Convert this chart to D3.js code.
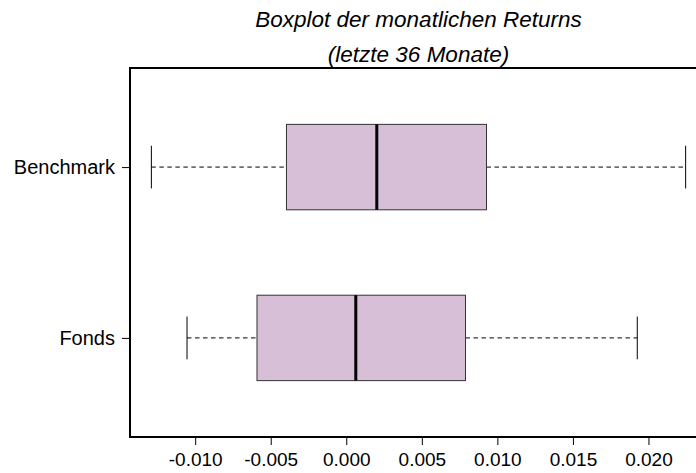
<!DOCTYPE html>
<html>
<head>
<meta charset="utf-8">
<script src="https://cdn.jsdelivr.net/npm/d3@7"></script>
<style>
  body { margin: 0; background: #fff; }
  text { font-family: "Liberation Sans", Arial, sans-serif; }
</style>
</head>
<body>
<div id="app"></div>
<script>
const groups = ['Fonds', 'Benchmark'];
const whiskerLow = [-0.01054, -0.0129];
const q1 = [-0.00591, -0.00396];
const median = [0.00063, 0.00202];
const q3 = [0.00789, 0.00928];
const whiskerHigh = [0.01926, 0.02246];
const xTicks = [-0.010, -0.005, 0.000, 0.005, 0.010, 0.015, 0.020];
const titleLines = ['Boxplot der monatlichen Returns', '(letzte 36 Monate)'];

const width = 696;
const height = 473;
const plotLeft = 130, plotRight = 707, plotTop = 68, plotBottom = 437;

const svg = d3.select('#app').append('svg')
  .attr('width', width)
  .attr('height', height);

// R style: data range padded by 4%
const lo = d3.min(whiskerLow), hi = d3.max(whiskerHigh);
const pad = (hi - lo) * 0.04;
const x = d3.scaleLinear()
  .domain([lo - pad, hi + pad])
  .range([plotLeft, plotRight]);

const y = d3.scaleLinear()
  .domain([0.42, 2.58])
  .range([plotBottom, plotTop]);

const boxes = groups.map((g, i) => ({
  name: g, pos: i + 1,
  min: whiskerLow[i], q1: q1[i], med: median[i], q3: q3[i], max: whiskerHigh[i]
}));

const bw = y(0.5) - y(1); // full box height in px
const g = svg.append('g');

boxes.forEach(b => {
  const cy = y(b.pos);
  // whiskers
  g.append('line').attr('x1', x(b.min)).attr('x2', x(b.q1))
    .attr('y1', cy).attr('y2', cy)
    .attr('stroke', '#000').attr('stroke-dasharray', '4.5,3.5');
  g.append('line').attr('x1', x(b.q3)).attr('x2', x(b.max))
    .attr('y1', cy).attr('y2', cy)
    .attr('stroke', '#000').attr('stroke-dasharray', '4.5,3.5');
  // caps
  [b.min, b.max].forEach(v => {
    g.append('line').attr('x1', x(v)).attr('x2', x(v))
      .attr('y1', cy - bw / 4).attr('y2', cy + bw / 4)
      .attr('stroke', '#000');
  });
  // box
  g.append('rect')
    .attr('x', x(b.q1)).attr('y', cy - bw / 2)
    .attr('width', x(b.q3) - x(b.q1)).attr('height', bw)
    .attr('fill', '#d8bfd8').attr('stroke', '#333').attr('stroke-width', 1);
  // median
  g.append('line').attr('x1', x(b.med)).attr('x2', x(b.med))
    .attr('y1', cy - bw / 2).attr('y2', cy + bw / 2)
    .attr('stroke', '#000').attr('stroke-width', 3);
});

// frame
svg.append('rect')
  .attr('x', plotLeft).attr('y', plotTop)
  .attr('width', plotRight - plotLeft).attr('height', plotBottom - plotTop)
  .attr('fill', 'none').attr('stroke', '#000').attr('stroke-width', 2);

// x axis
const xAxis = d3.axisBottom(x).tickValues(xTicks).tickSize(7)
  .tickFormat(d => d.toFixed(3));
const xa = svg.append('g')
  .attr('transform', `translate(0, ${plotBottom + 1})`)
  .call(xAxis);
xa.select('.domain').remove();
xa.selectAll('text')
  .attr('y', 28).attr('dy', null)
  .attr('font-size', 19).attr('fill', '#000')
  .style('font-family', '"Liberation Sans", Arial, sans-serif');

// y axis
const yAxis = d3.axisLeft(y).tickValues([1, 2]).tickSize(7).tickPadding(7)
  .tickFormat(d => groups[d - 1]);
const ya = svg.append('g')
  .attr('transform', `translate(${plotLeft - 1}, 0)`)
  .call(yAxis);
ya.select('.domain').remove();
ya.selectAll('text').attr('font-size', 20).attr('fill', '#000')
  .style('font-family', '"Liberation Sans", Arial, sans-serif');

// title
svg.append('g').selectAll('text')
  .data(titleLines)
  .join('text')
  .attr('x', (plotLeft + plotRight) / 2)
  .attr('y', (d, i) => 27 + i * 35)
  .attr('text-anchor', 'middle')
  .attr('font-size', 22.5)
  .attr('font-style', 'italic')
  .text(d => d);
</script>
</body>
</html>
